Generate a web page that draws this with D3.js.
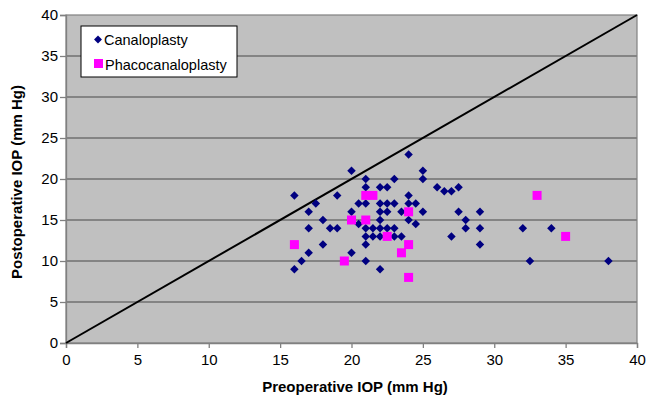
<!DOCTYPE html>
<html>
<head>
<meta charset="utf-8">
<script src="https://cdn.jsdelivr.net/npm/d3@7"></script>
<style>
  body { margin: 0; background: #fff; }
  svg text { font-family: "Liberation Sans", Arial, sans-serif; fill: #000; }
</style>
</head>
<body>
<svg id="chart" width="648" height="398"></svg>
<script>
const tickValues = [0, 5, 10, 15, 20, 25, 30, 35, 40];

// Canaloplasty: [preop, postop]
const canaloplasty = [
  [16, 18], [16, 9], [16.5, 10], [17, 16], [17, 14], [17, 11], [17.5, 17],
  [18, 15], [18, 12], [18.5, 14], [19, 18], [19, 14],
  [20, 21], [20, 16], [20, 11], [20.5, 17], [20.5, 14.5],
  [21, 20], [21, 19], [21, 17], [21, 14], [21, 13], [21, 12], [21, 10],
  [21.5, 14], [21.5, 13],
  [22, 19], [22, 17], [22, 16], [22, 15], [22, 14], [22, 13], [22, 9],
  [22.5, 19], [22.5, 17], [22.5, 16], [22.5, 14],
  [23, 20], [23, 17], [23, 14], [23, 13],
  [23.5, 16], [23.5, 13],
  [24, 23], [24, 18], [24, 17], [24, 15],
  [24.5, 17], [24.5, 14.5],
  [25, 21], [25, 20], [25, 16],
  [26, 19], [26.5, 18.5], [27, 18.5], [27.5, 19], [27.5, 16], [27, 13],
  [28, 15], [28, 14], [29, 16], [29, 14], [29, 12],
  [32, 14], [34, 14], [32.5, 10], [38, 10]
];

// Phacocanaloplasty: [preop, postop]
const phacocanaloplasty = [
  [16, 12], [19.5, 10], [20, 15], [21, 15], [21, 18], [21.5, 18],
  [22.5, 13], [23.5, 11], [24, 16], [24, 12], [24, 8], [33, 18], [35, 13]
];

const svg = d3.select('#chart');
const margin = { left: 66, top: 15, right: 11, bottom: 55 };
const width = 648 - margin.left - margin.right;
const height = 398 - margin.top - margin.bottom;

const x = d3.scaleLinear().domain([0, 40]).range([0, width]);
const y = d3.scaleLinear().domain([0, 40]).range([height, 0]);

const g = svg.append('g').attr('transform', `translate(${margin.left},${margin.top})`);

// plot area
g.append('rect')
  .attr('width', width).attr('height', height)
  .attr('fill', '#c0c0c0');

// grid lines
g.append('g').selectAll('line')
  .data(tickValues.filter(d => d > 0 && d < 40))
  .join('line')
  .attr('x1', 0).attr('x2', width)
  .attr('y1', d => y(d)).attr('y2', d => y(d))
  .attr('stroke', '#707070').attr('stroke-width', 1.5);

g.append('rect')
  .attr('width', width).attr('height', height)
  .attr('fill', 'none').attr('stroke', '#808080').attr('stroke-width', 1.2);

// axes
const xAxis = g.append('g')
  .attr('transform', `translate(0,${height})`)
  .call(d3.axisBottom(x).tickValues(tickValues).tickSize(5).tickPadding(6));
const yAxis = g.append('g')
  .call(d3.axisLeft(y).tickValues(tickValues).tickSize(6).tickPadding(2));

[xAxis, yAxis].forEach(a => {
  a.selectAll('path, line').attr('stroke', '#808080').attr('stroke-width', 1.3);
  a.selectAll('text').attr('font-size', 15).attr('font-family', '"Liberation Sans", Arial, sans-serif');
});

// identity line
g.append('line')
  .attr('x1', x(0)).attr('y1', y(0))
  .attr('x2', x(40)).attr('y2', y(40))
  .attr('stroke', '#000').attr('stroke-width', 2);

// canaloplasty diamonds
g.append('g').selectAll('rect')
  .data(canaloplasty)
  .join('rect')
  .attr('x', -3).attr('y', -3)
  .attr('width', 6).attr('height', 6)
  .attr('transform', d => `translate(${x(d[0])},${y(d[1])}) rotate(45)`)
  .attr('fill', '#000080');

// phacocanaloplasty squares
g.append('g').selectAll('rect')
  .data(phacocanaloplasty)
  .join('rect')
  .attr('x', d => x(d[0]) - 4.5).attr('y', d => y(d[1]) - 4.5)
  .attr('width', 9).attr('height', 9)
  .attr('fill', '#ff00ff');

// axis titles
svg.append('text')
  .attr('x', 355).attr('y', 392)
  .attr('text-anchor', 'middle')
  .attr('font-size', 15).attr('font-weight', 'bold')
  .text('Preoperative IOP (mm Hg)');

svg.append('text')
  .attr('transform', 'translate(22,182) rotate(-90)')
  .attr('text-anchor', 'middle')
  .attr('font-size', 15).attr('font-weight', 'bold')
  .text('Postoperative IOP (mm Hg)');

// legend
const legend = svg.append('g').attr('transform', 'translate(81,26)');
legend.append('rect')
  .attr('width', 156).attr('height', 51)
  .attr('fill', '#fff').attr('stroke', '#000').attr('stroke-width', 1);
legend.append('rect')
  .attr('x', -2.8).attr('y', -2.8).attr('width', 5.6).attr('height', 5.6)
  .attr('transform', 'translate(17,13.5) rotate(45)')
  .attr('fill', '#000080');
legend.append('text').attr('x', 23).attr('y', 19).attr('font-size', 14.5).text('Canaloplasty');
legend.append('rect')
  .attr('x', 13).attr('y', 33).attr('width', 9).attr('height', 9)
  .attr('fill', '#ff00ff');
legend.append('text').attr('x', 24).attr('y', 43.5).attr('font-size', 14.5).text('Phacocanaloplasty');
</script>
</body>
</html>
